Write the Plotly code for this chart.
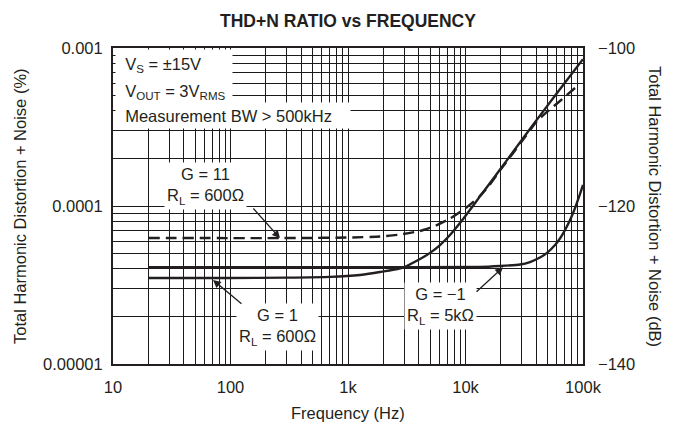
import plotly.graph_objects as go

# ---- data (THD+N in %) ----
g1_freq = [20, 100, 300, 703, 1265, 1870, 2940, 4100, 4990, 6070, 7380, 8970, 10900, 13270, 16170,
           19680, 25360, 37500, 60100, 100000]
g1_thd = [3.5e-5, 3.5e-5, 3.52e-5, 3.56e-5, 3.66e-5, 3.82e-5, 4.08e-5, 4.62e-5, 5.05e-5, 5.66e-5, 6.55e-5,
          7.8e-5, 9.44e-5, 1.15e-4, 1.40e-4, 1.70e-4, 2.2e-4, 3.26e-4, 5.19e-4, 8.5e-4]

gm1_freq = [20, 1000, 13270, 19680, 29100, 35400, 43000, 49400, 57800, 63700, 70300, 77600, 85500, 94200, 100000]
gm1_thd = [4.1e-5, 4.1e-5, 4.11e-5, 4.17e-5, 4.26e-5, 4.42e-5, 4.72e-5, 5.05e-5, 5.67e-5, 6.23e-5, 7.05e-5,
           8.15e-5, 9.7e-5, 1.19e-4, 1.36e-4]

g11_freq = [20, 390, 1040, 1870, 2770, 4100, 5500, 7380, 10300, 13270, 16170, 19680, 25360, 32100, 40600,
            50400, 63700, 85500]
g11_thd = [6.27e-5, 6.27e-5, 6.32e-5, 6.41e-5, 6.6e-5, 6.95e-5, 7.47e-5, 8.33e-5, 9.86e-5, 1.157e-4, 1.37e-4,
           1.68e-4, 2.16e-4, 2.73e-4, 3.45e-4, 3.99e-4, 4.62e-4, 5.58e-4]

x_tickvals = [10, 100, 1000, 10000, 100000]
x_ticktext = ["10", "100", "1k", "10k", "100k"]
y_tickvals = [1e-5, 1e-4, 1e-3]
y_ticktext = ["0.00001", "0.0001", "0.001"]
db_tickvals = [-100, -120, -140]
db_ticktext = ["\u2212100", "\u2212120", "\u2212140"]

minor_x = [m * 10 ** e for e in range(1, 5) for m in range(2, 10)]
minor_y = [m * 10 ** e for e in range(-5, -3) for m in range(2, 10)]

INK = "#231f20"
FONT = "Liberation Sans, Arial, Helvetica, sans-serif"
FS = 16.5

fig = go.Figure()
fig.add_trace(go.Scatter(x=g11_freq, y=g11_thd, mode="lines",
                         line=dict(color=INK, width=2.4, dash="11px,6px", shape="spline", smoothing=0.5),
                         showlegend=False, hoverinfo="skip"))
fig.add_trace(go.Scatter(x=gm1_freq, y=gm1_thd, mode="lines",
                         line=dict(color=INK, width=2.4, shape="spline", smoothing=0.5),
                         showlegend=False, hoverinfo="skip"))
fig.add_trace(go.Scatter(x=g1_freq, y=g1_thd, mode="lines",
                         line=dict(color=INK, width=2.4, shape="spline", smoothing=0.5),
                         showlegend=False, hoverinfo="skip"))
fig.add_trace(go.Scatter(x=[None], y=[None], yaxis="y2", showlegend=False, hoverinfo="skip"))

grid = "#1a1a1a"
fig.update_layout(
    width=675, height=430,
    margin=dict(l=113, r=92, t=48, b=66),
    paper_bgcolor="white", plot_bgcolor="white",
    font=dict(family=FONT, size=FS, color=INK),
    title=dict(text="<b>THD+N RATIO vs FREQUENCY</b>", x=0.5, xref="paper", xanchor="center",
               y=1 - 21 / 430, yanchor="middle", font=dict(size=17.5, family=FONT, color=INK)),
    xaxis=dict(type="log", range=[1, 5], tickvals=x_tickvals, ticktext=x_ticktext,
               showgrid=True, gridcolor=grid, gridwidth=1,
               minor=dict(tickvals=minor_x, showgrid=True, gridcolor=grid, gridwidth=1, ticks=""),
               showline=True, linecolor=INK, linewidth=2, mirror=True, ticks="", zeroline=False,
               ticklabelstandoff=7, tickfont=dict(size=FS)),
    yaxis=dict(type="log", range=[-5, -3], tickvals=y_tickvals, ticktext=y_ticktext,
               showgrid=True, gridcolor=grid, gridwidth=1,
               minor=dict(tickvals=minor_y, showgrid=True, gridcolor=grid, gridwidth=1, ticks=""),
               showline=True, linecolor=INK, linewidth=2, mirror=True, ticks="", zeroline=False,
               ticklabelstandoff=5, tickfont=dict(size=FS)),
    yaxis2=dict(overlaying="y", side="right", range=[-140, -100], tickvals=db_tickvals, ticktext=db_ticktext,
                showgrid=False, zeroline=False, ticks="", showline=False, ticklabelstandoff=14,
                tickfont=dict(size=FS)),
)

ann = []
# axis titles
ann.append(dict(text="Total Harmonic Distortion + Noise (%)", xref="paper", yref="paper",
                x=-93 / 470, y=0.5, textangle=-90, showarrow=False, xanchor="center", yanchor="middle"))
ann.append(dict(text="Total Harmonic Distortion + Noise (dB)", xref="paper", yref="paper",
                x=1 + 72 / 470, y=0.5, textangle=90, showarrow=False, xanchor="center", yanchor="middle"))
ann.append(dict(text="Frequency (Hz)", xref="paper", yref="paper",
                x=0.5, y=-49 / 316, showarrow=False, xanchor="center", yanchor="middle"))

# conditions box
PAD = "\u00a0\u00a0"
ann.append(dict(text=PAD + "V<sub>S</sub> = \u00b115V", xref="paper", yref="paper", x=2 / 470, y=1 - 1 / 316,
                xanchor="left", yanchor="top", showarrow=False, align="left", bgcolor="white",
                width=116, height=30, borderpad=0))
ann.append(dict(text=PAD + "V<sub>OUT</sub> = 3V<sub>RMS</sub>", xref="paper", yref="paper", x=2 / 470,
                y=1 - 30 / 316, xanchor="left", yanchor="top", showarrow=False, align="left", bgcolor="white",
                width=116, height=26, borderpad=0))
ann.append(dict(text=PAD + "Measurement BW > 500kHz", xref="paper", yref="paper", x=2 / 470, y=1 - 54 / 316,
                xanchor="left", yanchor="top", showarrow=False, align="left", bgcolor="white",
                width=234, height=25, borderpad=0))

# curve labels
ann.append(dict(text="G = 11<br>R<sub>L</sub> = 600\u03a9", x=1.783, y=-3.873, showarrow=False,
                bgcolor="white", borderpad=2))
ann.append(dict(text="G = 1<br>R<sub>L</sub> = 600\u03a9", x=2.396, y=-4.766, showarrow=False,
                bgcolor="white", borderpad=2))
ann.append(dict(text="G = \u22121<br>R<sub>L</sub> = 5k\u03a9", x=3.783, y=-4.633, showarrow=False,
                bgcolor="white", borderpad=2))

# arrows
arrow = dict(text="", showarrow=True, arrowhead=2, arrowsize=1.2, arrowwidth=1.3, arrowcolor=INK,
             axref="x", ayref="y")
ann.append(dict(arrow, x=2.421, y=-4.203, ax=2.183, ay=-4.006))
ann.append(dict(arrow, x=1.851, y=-4.468, ax=2.106, ay=-4.627))
ann.append(dict(arrow, x=4.319, y=-4.388, ax=4.081, ay=-4.551))

fig.update_layout(annotations=ann)
fig.write_html("out.html", config={"displayModeBar": False},
               post_script="document.body.style.margin='0';document.body.style.padding='0';")
